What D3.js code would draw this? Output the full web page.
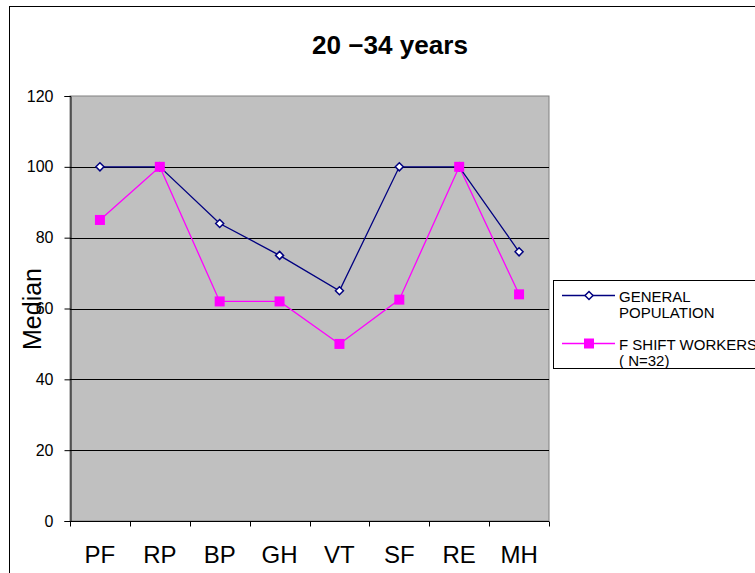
<!DOCTYPE html>
<html><head><meta charset="utf-8">
<script src="https://cdn.jsdelivr.net/npm/d3@7"></script>
<style>body{margin:0;background:#fff}svg{display:block;font-family:Arial,"Liberation Sans",sans-serif}</style>
</head><body>
<script>
const categories = ["PF","RP","BP","GH","VT","SF","RE","MH"];
const generalPopulation = [100,100,84,75,65,100,100,76];
const shiftWorkers = [85,100,62,62,50,62.5,100,64];
const yTicks = [0,20,40,60,80,100,120];
const seriesNames = [["GENERAL","POPULATION"],["F SHIFT WORKERS","( N=32)"]];

const W=755,H=573;
const svg=d3.select("body").append("svg").attr("width",W).attr("height",H);
svg.append("rect").attr("x",9.5).attr("y",6.5).attr("width",760).attr("height",580).attr("fill","#fff").attr("stroke","#000").attr("stroke-width",1);

const m={l:70,r:549,t:96,b:521};
const x=d3.scaleBand().domain(categories).range([m.l,m.r]);
const y=d3.scaleLinear().domain([0,120]).range([m.b,m.t]);

svg.append("rect").attr("x",m.l).attr("y",m.t).attr("width",m.r-m.l).attr("height",m.b-m.t).attr("fill","#c0c0c0").attr("stroke","#808080");
svg.append("g").selectAll("line").data(yTicks.filter(d=>d>0&&d<120)).join("line")
 .attr("x1",m.l).attr("x2",m.r).attr("y1",d=>Math.round(y(d))+0.5).attr("y2",d=>Math.round(y(d))+0.5).attr("stroke","#000");

const ya=svg.append("g").attr("transform",`translate(${m.l+0.5},0)`).call(d3.axisLeft(y).tickValues(yTicks).tickSize(6).tickPadding(11));
ya.attr("font-size",null).attr("font-family",null);
ya.selectAll("text").attr("font-size",16).attr("fill","#000");
ya.selectAll("line,path").attr("stroke","#000");

const xa=svg.append("g").attr("transform",`translate(0,${m.b+0.5})`);
xa.append("line").attr("x1",m.l).attr("x2",m.r).attr("stroke","#000");
const bounds=categories.map(c=>x(c)).concat([m.r]);
xa.selectAll("line.t").data(bounds).join("line").attr("class","t").attr("x1",d=>Math.round(d)+0.5).attr("x2",d=>Math.round(d)+0.5).attr("y1",0).attr("y2",5).attr("stroke","#000");
xa.selectAll("text").data(categories).join("text").attr("x",d=>x(d)+x.bandwidth()/2).attr("y",41).attr("text-anchor","middle").attr("font-size",24).text(d=>d);

svg.append("text").attr("x",390).attr("y",54).attr("text-anchor","middle").attr("font-size",25).attr("font-weight","bold")
 .attr("textLength",156).attr("lengthAdjust","spacingAndGlyphs").text("20 \u221234 years");
svg.append("text").attr("transform","translate(41,309) rotate(-90)").attr("text-anchor","middle").attr("font-size",25).text("Median");

const cx=c=>x(c)+x.bandwidth()/2;
const line=d3.line().x((d,i)=>cx(categories[i])).y(d=>y(d));
svg.append("path").datum(shiftWorkers).attr("d",line).attr("fill","none").attr("stroke","#ff00ff").attr("stroke-width",1.3);
svg.append("path").datum(generalPopulation).attr("d",line).attr("fill","none").attr("stroke","#000080").attr("stroke-width",1.3);
function drawDiamond(g,px,py){g.append("path").attr("d","M0,-4L4,0L0,4L-4,0Z").attr("transform",`translate(${px},${py})`).attr("fill","#fff").attr("stroke","#000080").attr("stroke-width",1.5);}
function drawSquare(g,px,py){g.append("rect").attr("x",px-5).attr("y",py-5).attr("width",10).attr("height",10).attr("fill","#ff00ff");}
generalPopulation.forEach((v,i)=>drawDiamond(svg,cx(categories[i]),y(v)));
shiftWorkers.forEach((v,i)=>drawSquare(svg,cx(categories[i]),y(v)));

// legend
const lg=svg.append("g");
lg.append("rect").attr("x",553.5).attr("y",280.5).attr("width",220).attr("height",88).attr("fill","#fff").attr("stroke","#000");
lg.append("line").attr("x1",562).attr("x2",615).attr("y1",295.5).attr("y2",295.5).attr("stroke","#000080").attr("stroke-width",1.3);
drawDiamond(lg,589,295.5);
lg.append("line").attr("x1",562).attr("x2",615).attr("y1",343.5).attr("y2",343.5).attr("stroke","#ff00ff").attr("stroke-width",1.3);
drawSquare(lg,589,343.5);
[[seriesNames[0],302],[seriesNames[1],350]].forEach(([ls,yy])=>{
 ls.forEach((s,k)=>lg.append("text").attr("x",619).attr("y",yy+k*16).attr("font-size",15).text(s));
});
</script>
</body></html>
